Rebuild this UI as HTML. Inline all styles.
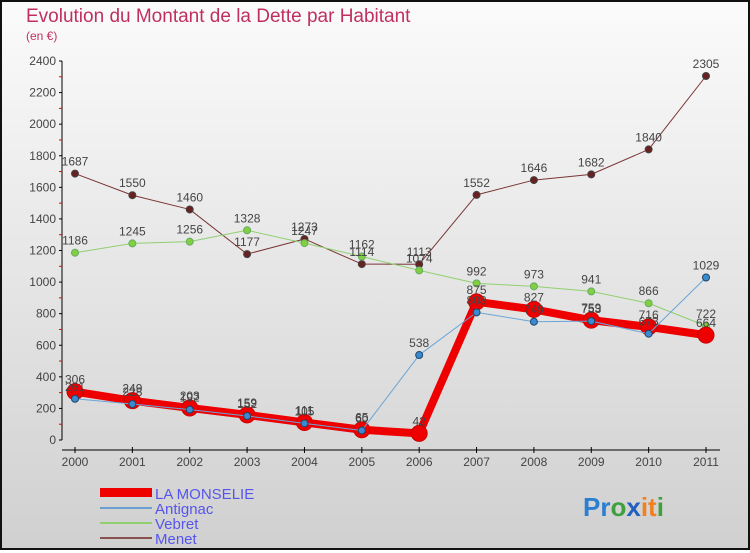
<!DOCTYPE html>
<html><head><meta charset="utf-8"><style>
html,body{margin:0;padding:0}
body{width:750px;height:550px;overflow:hidden;font-family:"Liberation Sans",sans-serif}
#wrap{position:relative;width:746px;height:546px;border:2px solid #111;background:linear-gradient(#fbfbfb,#d0d0d0)}
</style></head><body>
<div id="wrap">
<svg id="chart" width="746" height="546" viewBox="2 2 746 546" xmlns="http://www.w3.org/2000/svg">
<text x="26" y="22" font-size="19" fill="#c0305f">Evolution du Montant de la Dette par Habitant</text>
<text x="26" y="40" font-size="12" fill="#c0305f">(en €)</text>
<g id="axes"></g><g id="series"></g><g id="labels"></g>
<g font-size="15" fill="#5555ee">
<rect x="100" y="488" width="52" height="9" fill="#e00"/>
<text x="155" y="499">LA MONSELIE</text>
<rect x="100" y="507" width="52" height="2" fill="#6a9fcf"/>
<text x="155" y="514">Antignac</text>
<rect x="100" y="522" width="52" height="2" fill="#90d070"/>
<text x="155" y="529">Vebret</text>
<rect x="100" y="537" width="52" height="2" fill="#8a5050"/>
<text x="155" y="544">Menet</text>
</g>
<text x="583" y="516" font-size="26" font-weight="bold"><tspan fill="#2a7fd0">Pr</tspan><tspan fill="#40a040">o</tspan><tspan fill="#2060c0">x</tspan><tspan fill="#f08020">it</tspan><tspan fill="#40a040">i</tspan></text>
</svg>
</div>
<script>
const years=["2000","2001","2002","2003","2004","2005","2006","2007","2008","2009","2010","2011"];
const yTicks=[0,200,400,600,800,1000,1200,1400,1600,1800,2000,2200,2400];
const monselie=[306,249,203,159,111,65,42,875,827,759,716,664];
const antignac=[261,228,192,152,105,60,538,808,749,753,673,1029];
const vebret=[1186,1245,1256,1328,1247,1162,1074,992,973,941,866,722];
const menet=[1687,1550,1460,1177,1273,1114,1113,1552,1646,1682,1840,2305];
const NS="http://www.w3.org/2000/svg";
const x=i=>75+i*(706-75)/11;
const y=v=>440-v*(440-61)/2400;
function mk(tag,attrs,parent){const e=document.createElementNS(NS,tag);for(const k in attrs)e.setAttribute(k,attrs[k]);parent.appendChild(e);return e;}
const axes=document.getElementById('axes'),ser=document.getElementById('series'),lab=document.getElementById('labels');
let a=mk('line',{x1:62,y1:61,x2:62,y2:440,stroke:'#000'},axes);


a=mk('line',{x1:62,y1:450,x2:720,y2:450,stroke:'#000'},axes);


yTicks.forEach(t=>{
 mk('line',{x1:59,y1:y(t),x2:62,y2:y(t),stroke:'#000'},axes);
 if(t<2400)mk('line',{x1:59,y1:y(t+100),x2:62,y2:y(t+100),stroke:'#e00'},axes);
 const tx=mk('text',{x:56,y:y(t)+4,'font-size':12,fill:'#444','text-anchor':'end'},axes);
 tx.textContent=t;
 
 
});
years.forEach((yr,i)=>{
 mk('line',{x1:x(i),y1:447,x2:x(i),y2:453,stroke:'#000'},axes);
 const tx=mk('text',{x:x(i),y:466,'font-size':12,fill:'#444','text-anchor':'middle'},axes);
 tx.textContent=yr;
 
 
});
function draw(name,data,color,w,r,dot,ptStroke){
 const p=mk('polyline',{points:data.map((v,i)=>x(i)+','+y(v)).join(' '),fill:'none',stroke:color,'stroke-width':w,'stroke-linejoin':'round'},ser);
 
 
 data.forEach((v,i)=>{
  const c=mk('circle',{cx:x(i),cy:y(v),r:r,fill:dot,stroke:ptStroke,'stroke-width':1},ser);
  
  
  const t=mk('text',{x:x(i),y:y(v)-8,'font-size':12,fill:'#444','text-anchor':'middle'},lab);
  t.textContent=v;
  
  
 });
}
draw('menet',menet,'#7a3535',1,3.5,'#6a2020','#444');
draw('vebret',vebret,'#90d070',1,3.5,'#80d040','#6a6');
draw('la-monselie',monselie,'#ee0000',8,8,'#ee0000','#c00');
draw('antignac',antignac,'#6aa5d8',1,3.5,'#3a8ad0','#246');
</script>
</body></html>
